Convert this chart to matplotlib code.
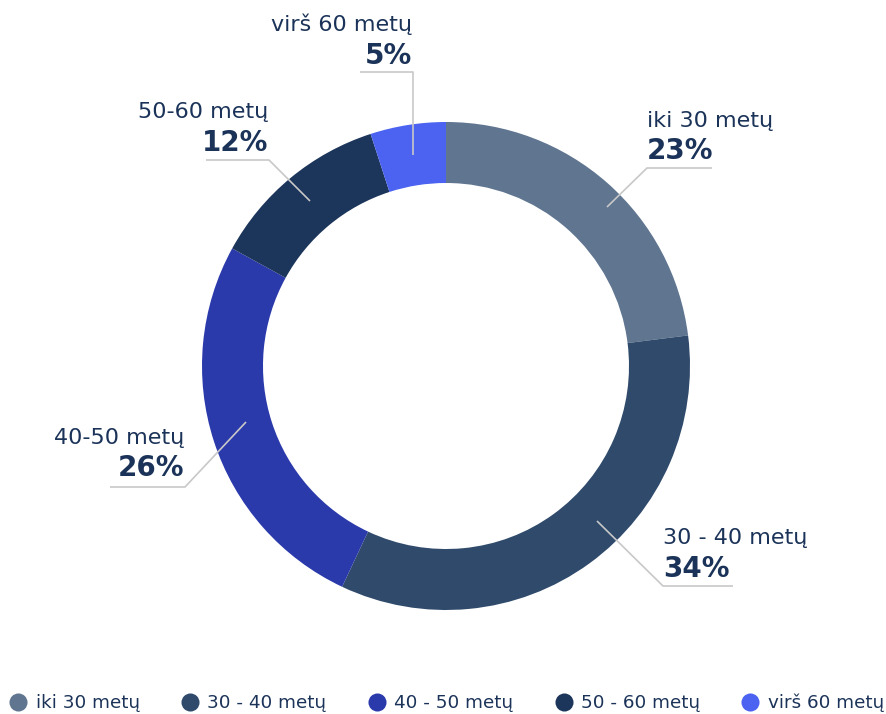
import numpy as np
import matplotlib
matplotlib.use('Agg')
import matplotlib.pyplot as plt
from matplotlib.lines import Line2D

# data
labels = ['iki 30 metų', '30 - 40 metų', '40-50 metų', '50-60 metų', 'virš 60 metų']
legend_labels = ['iki 30 metų', '30 - 40 metų', '40 - 50 metų', '50 - 60 metų', 'virš 60 metų']
values = [23, 34, 26, 12, 5]
colors = ['#5f7590', '#2f4a6b', '#2b3aab', '#1c355a', '#4b63f0']

plt.rcParams['font.family'] = ['DejaVu Sans']
txt_col = '#1b3358'
line_col = '#c8c8c8'

W, H = 886, 714
fig = plt.figure(figsize=(W / 100, H / 100), dpi=100)
ax = fig.add_axes([0, 0, 1, 1])

cx, cy = 446, H - 366
R, ring = 244, 61
wedges, _ = ax.pie(values, colors=colors, startangle=90, counterclock=False,
                   radius=R, center=(cx, cy), frame=True,
                   wedgeprops=dict(width=ring, linewidth=0))
ax.set_xlim(0, W)
ax.set_ylim(0, H)
ax.axis('off')

# label layout in pixels: text x, name y, pct y, underline y, underline far x, align, leader end
lay = [
    (647, 121, 151, 168, 712, 'left', (607, 207)),
    (663, 538, 569, 586, 733, 'left', (597, 521)),
    (184, 438, 468, 487, 110, 'right', (246, 422)),
    (268, 112, 143, 160, 206, 'right', (310, 201)),
    (412, 24, 56, 72, 360, 'right', (413, 155)),
]

for w, lab, v, (tx, ny, py, uy, ux, ha, (ex, ey)) in zip(wedges, labels, values, lay):
    ax.text(tx, H - ny, lab, ha=ha, va='center', fontsize=16, color=txt_col)
    ax.text(tx, H - py, f'{v}%', ha=ha, va='center', fontsize=20,
            fontweight='bold', color=txt_col)
    jx = tx + (1 if ha == 'right' else 0)
    ax.plot([ux, jx, ex], [H - uy, H - uy, H - ey], color=line_col, lw=1.2,
            solid_capstyle='butt', zorder=5)

handles = [Line2D([], [], marker='o', ls='', markersize=13, markerfacecolor=c,
                  markeredgewidth=0) for c in colors]
fig.legend(handles, legend_labels, loc='center left', ncol=5,
           bbox_to_anchor=(9 / W, 11 / H), frameon=False, fontsize=13.2,
           labelcolor=txt_col, handletextpad=0.45, columnspacing=2.25,
           handlelength=1.0, borderpad=0, borderaxespad=0)

fig.savefig('out.png', dpi=100)
